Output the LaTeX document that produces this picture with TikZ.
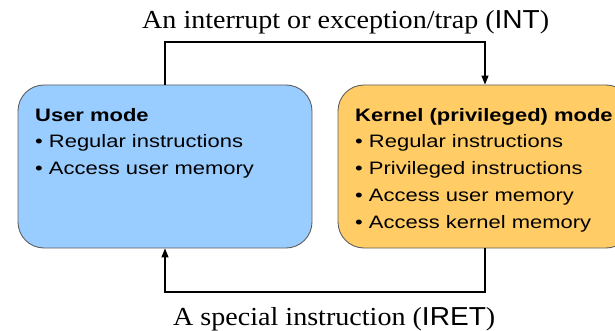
\documentclass[tikz,border=0pt]{standalone}
\usepackage{fontspec}
\setmainfont{Liberation Serif}
\setsansfont{Liberation Sans}
\newfontfamily\boxfont[FakeStretch=1.22]{Liberation Sans}
\newfontfamily\capserif[FakeStretch=1.08]{Liberation Serif}
\newfontfamily\capsans[FakeStretch=1.08]{Liberation Sans}
\usetikzlibrary{arrows.meta}
\definecolor{userblue}{RGB}{153,204,255}
\definecolor{kernorange}{RGB}{255,204,102}
\definecolor{edgegray}{RGB}{95,95,95}
\tikzset{
  modebox/.style={draw=edgegray, line width=0.9pt, rounded corners=26pt, minimum width=294pt, minimum height=163pt, inner sep=0pt},
  boxtext/.style={anchor=north west, align=left, inner sep=0pt, font=\boxfont\fontsize{18}{26.75}\selectfont},
  caption/.style={font=\capserif\fontsize{26}{30}\selectfont, inner sep=0pt},
  flow/.style={line width=1.1pt, -{Triangle[length=9pt,width=7pt]}}
}
\begin{document}
\begin{tikzpicture}[x=1pt,y=-1pt]
\useasboundingbox (0,0) rectangle (615,331);
\node[modebox, fill=userblue] (user) at (165,166.5) {};
\node[modebox, fill=kernorange] (kern) at (485,166.5) {};
\node[boxtext] (utext) at (35,107.8) {\textbf{User mode}\\\textbullet\ Regular instructions\\\textbullet\ Access user memory};
\node[boxtext] (ktext) at (355,107.8) {\textbf{Kernel (privileged) mode}\\\textbullet\ Regular instructions\\\textbullet\ Privileged instructions\\\textbullet\ Access user memory\\\textbullet\ Access kernel memory};
\coordinate (toprail) at (165,42);
\coordinate (botrail) at (165,292);
\draw[flow] (user.north) -- (toprail) -| (kern.north);
\draw[flow] (kern.south) -- (kern.south |- botrail) -| (user.south);
\node[caption, anchor=base west] (intlab) at (142,29) {An interrupt or exception/trap ({\capsans INT})};
\node[caption, anchor=base west] (iretlab) at (173,325) {A special instruction ({\capsans IRET})};
\end{tikzpicture}
\end{document}
